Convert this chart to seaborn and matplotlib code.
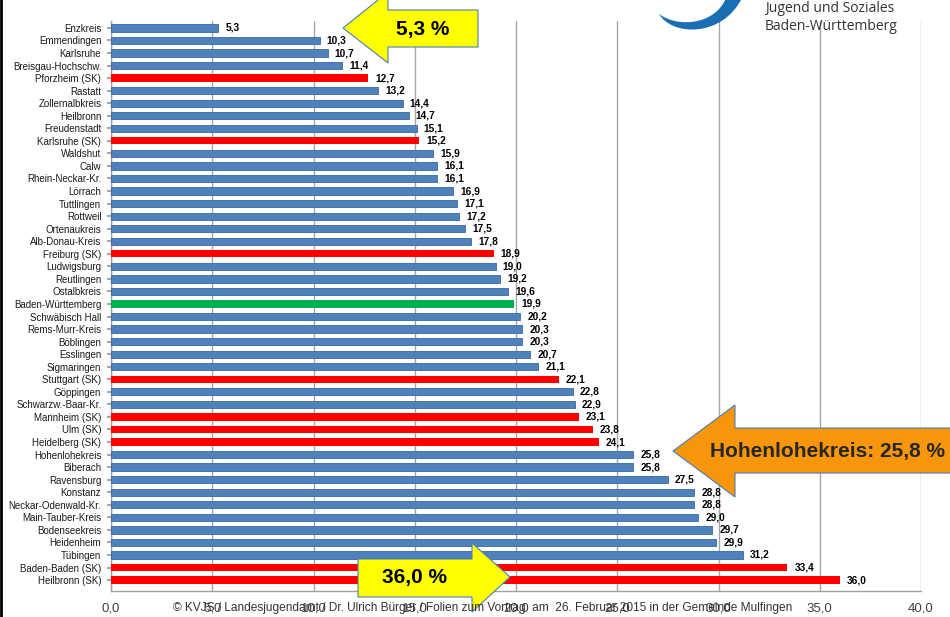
import matplotlib
matplotlib.use("Agg")
import matplotlib.pyplot as plt
from matplotlib.patches import Polygon, PathPatch
from matplotlib.path import Path
import seaborn as sns
import pandas as pd

# Kreise / Stadtkreise, Anteil in %
kreise = [
    "Enzkreis", "Emmendingen", "Karlsruhe", "Breisgau-Hochschw.", "Pforzheim (SK)",
    "Rastatt", "Zollernalbkreis", "Heilbronn", "Freudenstadt", "Karlsruhe (SK)",
    "Waldshut", "Calw", "Rhein-Neckar-Kr.", "Lörrach", "Tuttlingen", "Rottweil",
    "Ortenaukreis", "Alb-Donau-Kreis", "Freiburg (SK)", "Ludwigsburg", "Reutlingen",
    "Ostalbkreis", "Baden-Württemberg", "Schwäbisch Hall", "Rems-Murr-Kreis",
    "Böblingen", "Esslingen", "Sigmaringen", "Stuttgart (SK)", "Göppingen",
    "Schwarzw.-Baar-Kr.", "Mannheim (SK)", "Ulm (SK)", "Heidelberg (SK)",
    "Hohenlohekreis", "Biberach", "Ravensburg", "Konstanz", "Neckar-Odenwald-Kr.",
    "Main-Tauber-Kreis", "Bodenseekreis", "Heidenheim", "Tübingen",
    "Baden-Baden (SK)", "Heilbronn (SK)",
]
werte = [
    5.3, 10.3, 10.7, 11.4, 12.7, 13.2, 14.4, 14.7, 15.1, 15.2,
    15.9, 16.1, 16.1, 16.9, 17.1, 17.2, 17.5, 17.8, 18.9, 19.0,
    19.2, 19.6, 19.9, 20.2, 20.3, 20.3, 20.7, 21.1, 22.1, 22.8,
    22.9, 23.1, 23.8, 24.1, 25.8, 25.8, 27.5, 28.8, 28.8, 29.0,
    29.7, 29.9, 31.2, 33.4, 36.0,
]
typ = [
    "LK", "LK", "LK", "LK", "SK", "LK", "LK", "LK", "LK", "SK",
    "LK", "LK", "LK", "LK", "LK", "LK", "LK", "LK", "SK", "LK",
    "LK", "LK", "Land", "LK", "LK", "LK", "LK", "LK", "SK", "LK",
    "LK", "SK", "SK", "SK", "LK", "LK", "LK", "LK", "LK", "LK",
    "LK", "LK", "LK", "SK", "SK",
]
x_ticks = [0, 5, 10, 15, 20, 25, 30, 35, 40]
farben = {"LK": "#4F81BD", "SK": "#FF0000", "Land": "#00B050"}

df = pd.DataFrame({"Kreis": kreise, "Wert": werte, "Typ": typ})

sns.set_theme(style="white")
plt.rcParams["font.family"] = ["Liberation Sans", "DejaVu Sans"]

W, H = 950, 617
fig = plt.figure(figsize=(W / 100, H / 100), dpi=100)
fig.patch.set_facecolor("white")


def fx(px):
    return px / W


def fy(py):
    return 1 - py / H


ax = fig.add_axes([fx(111), fy(591), fx(921) - fx(111), fy(21) - fy(591)])

sns.barplot(data=df, x="Wert", y="Kreis", hue="Typ", palette=farben,
            dodge=False, width=0.58, legend=False, ax=ax, zorder=3,
            edgecolor="none", saturation=1)
lk_rgb = matplotlib.colors.to_rgb(farben["LK"])
for bar in ax.patches:
    if tuple(bar.get_facecolor()[:3]) == lk_rgb:
        bar.set_edgecolor("#3A68A3")
        bar.set_linewidth(0.6)

ax.set_xlim(0, 40)
ax.set_ylim(len(kreise) - 1 + 0.87, -0.55)
ax.set_xticks(x_ticks)
ax.set_xticklabels([f"{v:.1f}".replace(".", ",") for v in x_ticks],
                   fontsize=9.5, color="#404040")
ax.tick_params(axis="x", length=0, pad=8)
ax.tick_params(axis="y", length=3, color="#9A9A9A", labelsize=7, pad=4,
               labelcolor="#1A1A1A", left=True)
ax.set_xlabel("")
ax.set_ylabel("")
ax.xaxis.grid(True, color="#A6A6A6", linewidth=1.0, zorder=0)
ax.set_axisbelow(True)
for side in ["top", "right"]:
    ax.spines[side].set_visible(False)
for side in ["left", "bottom"]:
    ax.spines[side].set_color("#A0A0A0")
    ax.spines[side].set_linewidth(1.0)

# Wertbeschriftungen
for i, v in enumerate(werte):
    ax.text(v + 0.35, i, f"{v:.1f}".replace(".", ","), va="center", ha="left",
            fontsize=7.3, fontweight="bold", color="black", zorder=4)

# Pfeile
def pfeil(pts, farbe, kante):
    poly = Polygon([(fx(x), fy(y)) for x, y in pts], closed=True,
                   transform=fig.transFigure, facecolor=farbe, edgecolor=kante,
                   linewidth=0.8, zorder=10)
    fig.patches.append(poly)


pfeil([(343, 28), (388, -8), (388, 10), (478, 10), (478, 47), (388, 47), (388, 63)],
      "#FFFF00", "#4A7EBB")
fig.text(fx(423), fy(30), "5,3 %", ha="center", va="center", fontsize=15,
         fontweight="bold", color="black", zorder=11)

pfeil([(673, 451), (735, 405), (735, 428), (965, 428), (965, 473), (735, 473), (735, 497)],
      "#F7960A", "#4A7EBB")
fig.text(fx(827), fy(451), "Hohenlohekreis: 25,8 %", ha="center", va="center",
         fontsize=15, fontweight="bold", color="#262626", zorder=11)

pfeil([(358, 559), (472, 559), (472, 543), (510, 577), (472, 612), (472, 597), (358, 597)],
      "#FFFF00", "#4A7EBB")
fig.text(fx(415), fy(578), "36,0 %", ha="center", va="center", fontsize=15,
         fontweight="bold", color="black", zorder=11)

# Fußzeile (liegt wie im Foliensatz über der Achsenbeschriftung)
fig.text(fx(483), fy(608),
         "© KVJS / Landesjugendamt / Dr. Ulrich Bürger / Folien zum Vortrag  am  "
         "26. Februar 2015 in der Gemeinde Mulfingen",
         ha="center", va="center", fontsize=8.6,
         family=["Liberation Sans Narrow", "Liberation Sans", "DejaVu Sans"],
         color="#333333", zorder=12)

# Logo oben rechts
verts = [(659, 14), (672, 36), (722, 38), (742, -2), (726, -2),
         (715, 25), (678, 28), (659, 14), (659, 14)]
codes = [Path.MOVETO, Path.CURVE4, Path.CURVE4, Path.CURVE4, Path.LINETO,
         Path.CURVE4, Path.CURVE4, Path.CURVE4, Path.CLOSEPOLY]
logo = PathPatch(Path([(fx(x), fy(y)) for x, y in verts], codes),
                 transform=fig.transFigure, facecolor="#1B6DB4", edgecolor="none",
                 zorder=10)
fig.patches.append(logo)
fig.text(fx(765), fy(8), "Jugend und Soziales", ha="left", va="center",
         fontsize=10, family=["Open Sans", "DejaVu Sans"], color="#333333")
fig.text(fx(765), fy(26), "Baden-Württemberg", ha="left", va="center",
         fontsize=10, family=["Open Sans", "DejaVu Sans"], color="#333333")

# linker Rahmen
fig.add_artist(plt.Line2D([fx(1), fx(1)], [0, 1], transform=fig.transFigure,
                          color="black", linewidth=2))

fig.savefig("out.png", dpi=100, facecolor="white")
